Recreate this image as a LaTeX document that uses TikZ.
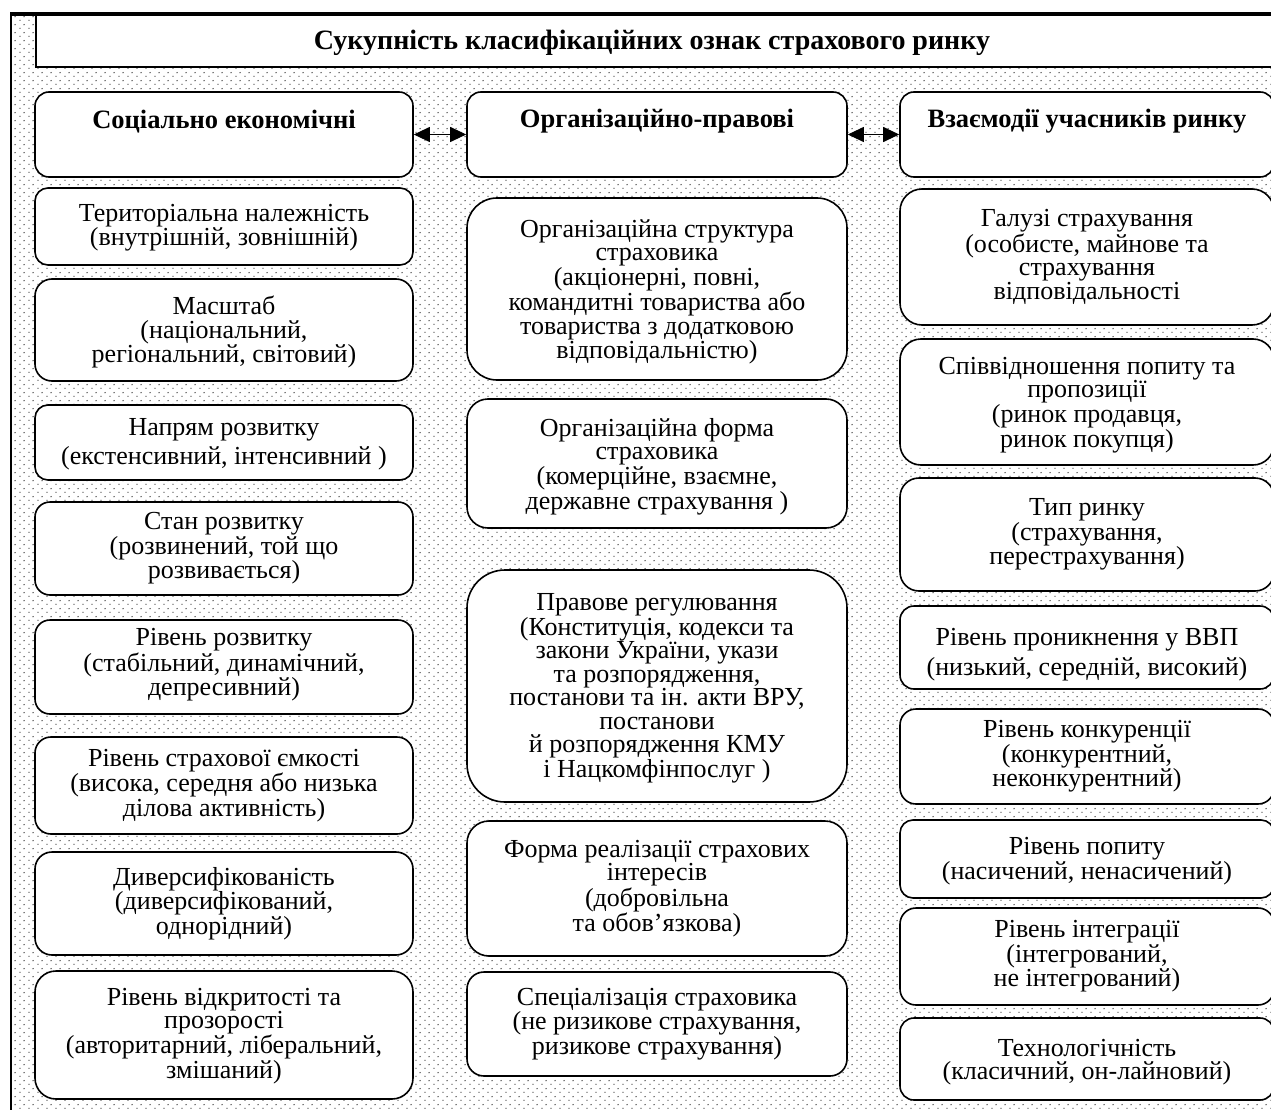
\documentclass[tikz,border=0pt]{standalone}
\usepackage{fontspec}
\setmainfont{Liberation Serif}
\usetikzlibrary{arrows.meta,patterns.meta}
\tikzdeclarepattern{
  name=refdots,
  type=colored,
  bounding box={(0pt,0pt) and (9pt,8pt)},
  tile size={(9pt,8pt)},
  code={
    \fill[black!80] (2.25pt,2pt) circle (0.75pt);
    \fill[black!80] (6.75pt,6pt) circle (0.75pt);
  }
}
\tikzset{
  box/.style={draw, line width=1.6pt, fill=white, inner sep=0pt},
  txt/.style={align=center, inner sep=0pt, font=\fontsize{26}{23.5}\selectfont},
  htxt/.style={align=center, inner sep=0pt, font=\bfseries\fontsize{26.5}{24}\selectfont},
  titlebox/.style={draw, line width=1.5pt, fill=white, inner sep=0pt},
  titletxt/.style={inner sep=0pt, font=\bfseries\fontsize{28}{28}\selectfont},
  dblarrow/.style={{Triangle[length=16pt,width=15pt]}-{Triangle[length=16pt,width=15pt]}, line width=1pt},
}
% \bx[text style]{name}{x1}{y1}{x2}{y2}{radius}{text shift down}{text}
\newcommand\bx[9][txt]{%
  \node[box, rounded corners=#7pt, minimum width={#5pt-#3pt}, minimum height={#6pt-#4pt}]
    (#2) at ({(#3+#5)/2},{(#4+#6)/2}) {};
  \node[#1] (#2t) at ([yshift={-(#8)*1pt}]#2.center) {#9};}
\begin{document}
\begin{tikzpicture}[x=1pt,y=-1pt]
\clip (0,0) rectangle (1271,1110);
\fill[white] (0,0) rectangle (1271,1110);
\fill[pattern=refdots] (11,14) rectangle (1320,1130);
\node[titlebox, minimum width=1280pt, minimum height=53pt] (title) at (676,40.5) {};
\node[titletxt] (titlet) at (652,43) {Сукупність класифікаційних ознак страхового ринку};
\draw[line width=2pt] (11,1130) -- (11,14);
\draw[line width=3.5pt] (10,14) -- (1320,14);
% headers
\bx[htxt]{h1}{35}{92}{413}{177}{14}{-13}{Соціально економічні}
\bx[htxt]{h2}{467}{92}{847}{177}{14}{-13}{Організаційно-правові}
\bx[htxt]{h3}{900}{92}{1274}{177}{14}{-13}{Взаємодії учасників ринку}
\draw[dblarrow] (h1.east) -- (h2.west);
\draw[dblarrow] (h2.east) -- (h3.west);
% left column
\bx{l1}{35}{188}{413}{265}{13}{1}{Територіальна належність\\(внутрішній, зовнішній)}
\bx{l2}{35}{279}{413}{381}{17}{2}{Масштаб\\(національний,\\регіональний, світовий)}
\bx{l3}{35}{405}{413}{480}{13}{2}{Напрям розвитку\\[4pt](екстенсивний, інтенсивний )}
\bx{l4}{35}{502}{413}{595}{15}{0}{Стан розвитку\\(розвинений, той що\\розвивається)}
\bx{l5}{35}{620}{413}{714}{15}{-2}{Рівень розвитку\\(стабільний, динамічний,\\депресивний)}
\bx{l6}{35}{737}{413}{834}{16}{0}{Рівень страхової ємкості\\(висока, середня або низька\\ділова активність)}
\bx{l7}{35}{852}{413}{955}{17}{0}{Диверсифікованість\\(диверсифікований,\\однорідний)}
\bx{l8}{35}{971}{413}{1099}{21}{1}{Рівень відкритості та\\прозорості\\(авторитарний, ліберальний,\\змішаний)}
% middle column
\bx{m1}{467}{198}{847}{380}{30}{3}{Організаційна структура\\страховика\\(акціонерні, повні,\\командитні товариства або\\товариства з додатковою\\відповідальністю)}
\bx{m2}{467}{399}{847}{528}{21}{3}{Організаційна форма\\страховика\\(комерційне, взаємне,\\державне страхування )}
\bx{m3}{467}{570}{847}{802}{38}{2}{Правове регулювання\\(Конституція, кодекси та\\закони України, укази\\та розпорядження,\\постанови та ін. акти ВРУ,\\постанови\\й розпорядження КМУ\\і Нацкомфінпослуг )}
\bx{m4}{467}{821}{847}{956}{22}{0}{Форма реалізації страхових\\інтересів\\(добровільна\\та обов’язкова)}
\bx{m5}{467}{972}{847}{1076}{17}{0}{Спеціалізація страховика\\(не ризикове страхування,\\ризикове страхування)}
% right column
\bx{r1}{900}{189}{1274}{325}{22}{0}{Галузі страхування\\(особисте, майнове та\\страхування\\відповідальності}
\bx{r2}{900}{339}{1274}{465}{21}{3}{Співвідношення попиту та\\пропозиції\\(ринок продавця,\\ринок покупця)}
\bx{r3}{900}{478}{1274}{591}{19}{0}{Тип ринку\\(страхування,\\перестрахування)}
\bx{r4}{900}{606}{1274}{689}{14}{7}{Рівень проникнення у ВВП\\[6pt](низький, середній, високий)}
\bx{r5}{900}{709}{1274}{804}{16}{0}{Рівень конкуренції\\(конкурентний,\\неконкурентний)}
\bx{r6}{900}{820}{1274}{898}{13}{2}{Рівень попиту\\(насичений, ненасичений)}
\bx{r7}{900}{908}{1274}{1005}{16}{0}{Рівень інтеграції\\(інтегрований,\\не інтегрований)}
\bx{r8}{900}{1018}{1274}{1100}{14}{3}{Технологічність\\(класичний, он-лайновий)}
\end{tikzpicture}
\end{document}
